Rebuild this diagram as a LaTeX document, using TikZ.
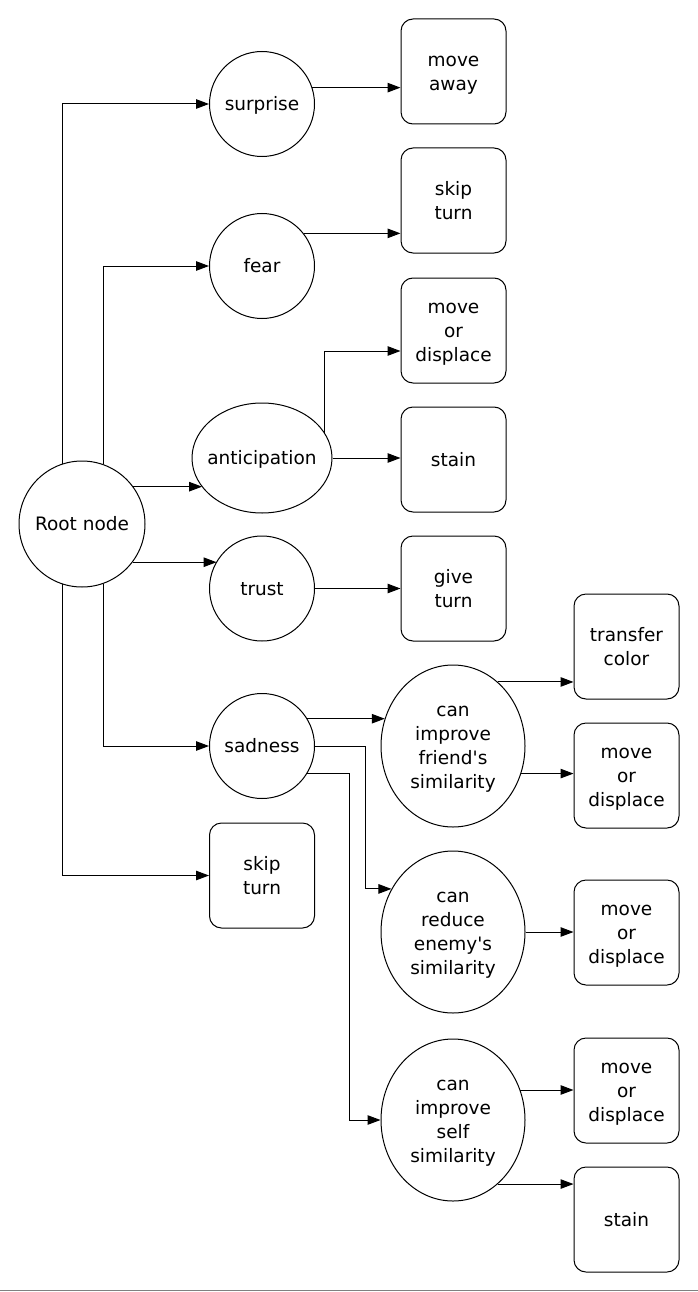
\documentclass[tikz,border=0pt]{standalone}
\usepackage{fontspec}
\setmainfont{DejaVu Sans}
\usetikzlibrary{shapes.geometric,arrows.meta,calc}
\newcommand{\ml}[1]{\makebox[0pt]{\raisebox{0pt}[\dimexpr\height+4pt\relax]{\begin{tabular}{@{}c@{}}#1\end{tabular}}}}
\begin{document}
\begin{tikzpicture}[x=1pt,y=-1pt,
  every node/.style={font=\fontsize{18.5}{24}\selectfont, inner sep=0pt},
  circ/.style={circle,draw,line width=1pt,minimum size=105pt},
  elli/.style={ellipse,draw,line width=1pt,minimum width=144pt,minimum height=162pt},
  boxn/.style={rectangle,rounded corners=12pt,draw,line width=1pt,minimum width=105pt,minimum height=105pt},
  arr/.style={line width=1pt,-{Triangle[length=13pt,width=9.5pt]}}]
\useasboundingbox (0,0) rectangle (698,1292);
% first column
\node[circ, minimum size=126pt] (root) at (82,524) {\ml{Root node}};
% second column
\node[circ] (surprise) at (262,104) {\ml{surprise}};
\node[circ] (fear) at (262,266) {\ml{fear}};
\node[ellipse,draw,line width=1pt,minimum width=140pt,minimum height=110pt] (ant) at (262,458) {\ml{anticipation}};
\node[circ] (trust) at (262,588.5) {\ml{trust}};
\node[circ] (sad) at (262,746) {\ml{sadness}};
\node[boxn] (skip2) at (262,875.5) {\ml{skip\\turn}};
% third column
\node[boxn] (away) at (453.5,71.5) {\ml{move\\away}};
\node[boxn] (skip1) at (453.5,200.5) {\ml{skip\\turn}};
\node[boxn] (mod1) at (453.5,330.5) {\ml{move\\or\\displace}};
\node[boxn] (stain1) at (453.5,459.5) {\ml{stain}};
\node[boxn] (give) at (453.5,588.5) {\ml{give\\turn}};
\node[elli] (friend) at (453,746) {\ml{can\\improve\\friend\textquotesingle s\\similarity}};
\node[elli] (enemy) at (453,932) {\ml{can\\reduce\\enemy\textquotesingle s\\similarity}};
\node[elli] (self) at (453,1120) {\ml{can\\improve\\self\\similarity}};
% fourth column
\node[boxn] (tc) at (626.5,646.5) {\ml{transfer\\color}};
\node[boxn] (mod2) at (626.5,775.5) {\ml{move\\or\\displace}};
\node[boxn] (mod3) at (626.5,932.5) {\ml{move\\or\\displace}};
\node[boxn] (mod4) at (626.5,1090.5) {\ml{move\\or\\displace}};
\node[boxn] (stain2) at (626.5,1219.5) {\ml{stain}};
% connectors from root
\draw[arr] (root.108.5) |- (surprise);
\draw[arr] (root.70.5) |- (fear);
\draw[arr] (root.36) -- (root.36 -| ant.206);
\draw[arr] (root.-37) -- (root.-37 -| trust.149.5);
\draw[arr] (root.-70.5) |- (sad);
\draw[arr] (root.-108.5) |- (skip2);
% second column to third
\draw[arr] (surprise.18) -- (surprise.18 -| away.west);
\draw[arr] (fear.38) -- (fear.38 -| skip1.west);
\draw[arr] (ant.22) |- ([yshift=-20.5pt]mod1.west);
\draw[arr] (ant.east) -- (ant.east -| stain1.west);
\draw[arr] (trust) -- (give);
\draw[arr] (sad.31) -- (sad.31 -| friend.158.3);
\draw[arr] (sad.east) -| ($(enemy.145.7)+(-26,0)$) -- (enemy.145.7);
\draw[arr] (sad.-31) -| ($(self.west)+(-31,0)$) -- (self.west);
% third column to fourth
\draw[arr] (friend.55.4) -- (friend.55.4 -| tc.west);
\draw[arr] (friend.-22.5) -- (friend.-22.5 -| mod2.west);
\draw[arr] (enemy.east) -- (enemy.east -| mod3.west);
\draw[arr] (self.24.2) -- (self.24.2 -| mod4.west);
\draw[arr] (self.-55.4) -- (self.-55.4 -| stain2.west);
% bottom rule
\draw[gray, line width=1.5pt] (0,1290.5) -- (698,1290.5);
\end{tikzpicture}
\end{document}
